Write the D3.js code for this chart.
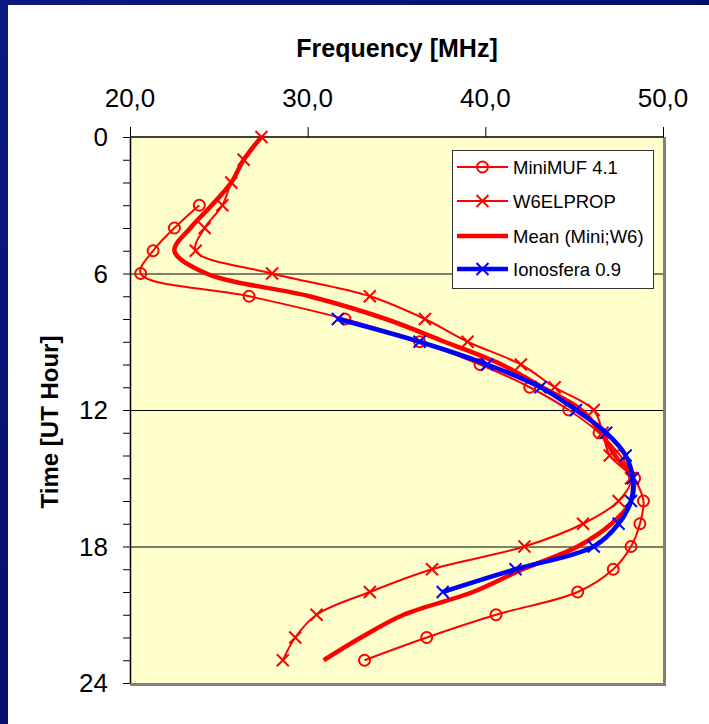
<!DOCTYPE html>
<html lang="en">

<head>
    <meta charset="utf-8">
    <script src="https://cdn.jsdelivr.net/npm/d3@7"></script>
    <title>MUF comparison</title>
    <style>
        body { margin: 0; background: #06066a; }
        svg { display: block; font-family: "Liberation Sans", Arial, sans-serif; }
    </style>
</head>

<body>
    <svg width="709" height="724" id="plot"></svg>
    <script>
    // hours of the day (UT)
    const hours = [0, 1, 2, 3, 4, 5, 6, 7, 8, 9, 10, 11, 12, 13, 14, 15, 16, 17, 18, 19, 20, 21, 22, 23]

    // frequencies in MHz, null where a series has no value
    const miniMuf = [null, null, null, 23.9, 22.5, 21.3, 20.6, 26.7, 32.1, 36.3, 39.7, 42.5,
        44.7, 46.4, 47.6, 48.4, 48.9, 48.7, 48.2, 47.2, 45.2, 40.6, 36.7, 33.2]
    const w6elprop = [27.4, 26.4, 25.7, 25.2, 24.2, 23.7, 28.0, 33.5, 36.6, 39.0, 42.0, 43.9,
        46.1, 46.6, 47.0, 48.2, 47.5, 45.5, 42.2, 37.0, 33.5, 30.5, 29.3, 28.6]
    const meanMiniW6 = [27.4, 26.4, 25.7, 24.6, 23.4, 22.5, 24.3, 30.1, 34.4, 37.7, 40.9, 43.2,
        45.4, 46.5, 47.3, 48.3, 48.2, 47.1, 45.2, 42.1, 39.3, 35.4, 33.0, 30.9]
    const ionosfera = [null, null, null, null, null, null, null, null, 31.7, 36.3, 40.1, 43.1,
        45.1, 46.8, 47.9, 48.3, 48.2, 47.5, 46.1, 41.7, 37.6, null, null, null]

    const freqTicks = [20, 30, 40, 50]
    const hourTicks = [0, 6, 12, 18, 24]

    const series = [
        { name: "MiniMUF 4.1", values: miniMuf, color: "#ff0000", width: 2, marker: "circle" },
        { name: "W6ELPROP", values: w6elprop, color: "#ff0000", width: 2, marker: "cross" },
        { name: "Mean (Mini;W6)", values: meanMiniW6, color: "#ff0000", width: 4.5, marker: "none" },
        { name: "Ionosfera 0.9", values: ionosfera, color: "#0000ff", width: 4.5, marker: "cross" }
    ]

    let svg = d3.select("#plot")

    // background: dark blue slide with white panel
    let grad = svg.append("defs").append("linearGradient")
        .attr("id", "bg").attr("x1", 0).attr("y1", 0).attr("x2", 1).attr("y2", 1)
    grad.append("stop").attr("offset", 0).attr("stop-color", "#0a1a80")
    grad.append("stop").attr("offset", 1).attr("stop-color", "#03035c")
    svg.append("rect").attr("width", 709).attr("height", 724).attr("fill", "url(#bg)")
    svg.append("rect").attr("x", 8).attr("y", 5).attr("width", 701).attr("height", 719).attr("fill", "#ffffff")

    const plotLeft = 130, plotRight = 663, plotTop = 137, plotBottom = 683

    let x = d3.scaleLinear().domain([20, 50]).range([plotLeft, plotRight])
    let y = d3.scaleLinear().domain([0, 24]).range([plotTop, plotBottom])

    // plot area
    svg.append("rect")
        .attr("x", plotLeft).attr("y", plotTop)
        .attr("width", plotRight - plotLeft).attr("height", plotBottom - plotTop)
        .attr("fill", "#ffffcc")
    svg.append("path")
        .attr("d", `M${plotRight + 1.5},${plotTop}V${plotBottom + 1.5}H${plotLeft}`)
        .attr("fill", "none").attr("stroke", "#808080").attr("stroke-width", 3)

    // horizontal grid
    svg.append("g").selectAll("line")
        .data(hourTicks.filter(d => d > 0 && d < 24))
        .enter().append("line")
        .attr("x1", plotLeft).attr("x2", plotRight)
        .attr("y1", d => y(d) + 0.5).attr("y2", d => y(d) + 0.5)
        .attr("stroke", "#000").attr("stroke-width", 1)

    // top axis
    svg.append("line")
        .attr("x1", plotLeft).attr("x2", plotRight + 1)
        .attr("y1", plotTop).attr("y2", plotTop)
        .attr("stroke", "#404040").attr("stroke-width", 2)
    svg.append("g").selectAll("line")
        .data(freqTicks)
        .enter().append("line")
        .attr("x1", d => x(d) + 0.5).attr("x2", d => x(d) + 0.5)
        .attr("y1", plotTop - 10).attr("y2", plotTop)
        .attr("stroke", "#000")
    svg.append("g").selectAll("text")
        .data(freqTicks)
        .enter().append("text")
        .attr("x", d => x(d)).attr("y", 107)
        .attr("text-anchor", "middle")
        .style("font-size", "26px")
        .text(d => d3.format(".1f")(d).replace(".", ","))

    // left axis
    svg.append("line")
        .attr("x1", plotLeft + 0.5).attr("x2", plotLeft + 0.5)
        .attr("y1", plotTop).attr("y2", plotBottom)
        .attr("stroke", "#000").attr("stroke-width", 1.5)
    svg.append("g").selectAll("line")
        .data(d3.range(0, 25))
        .enter().append("line")
        .attr("x1", plotLeft - 7).attr("x2", plotLeft)
        .attr("y1", d => y(d) + 0.5).attr("y2", d => y(d) + 0.5)
        .attr("stroke", "#000")
    svg.append("g").selectAll("text")
        .data(hourTicks)
        .enter().append("text")
        .attr("x", 108).attr("y", d => y(d))
        .attr("dy", "0.36em")
        .attr("text-anchor", "end")
        .style("font-size", "26px")
        .text(d => d)

    // axis titles
    svg.append("text")
        .text("Frequency [MHz]")
        .attr("x", 397).attr("y", 57)
        .attr("text-anchor", "middle")
        .style("font-size", "25px").style("font-weight", "bold")
    svg.append("text")
        .text("Time [UT Hour]")
        .attr("transform", "translate(58,422) rotate(-90)")
        .attr("text-anchor", "middle")
        .style("font-size", "24px").style("font-weight", "bold")

    function drawMarker(g, kind, px, py, color) {
        if (kind == "circle") {
            g.append("circle")
                .attr("cx", px).attr("cy", py).attr("r", 5.5)
                .attr("fill", "none").attr("stroke", color).attr("stroke-width", 2)
        } else if (kind == "cross") {
            const s = 6
            g.append("path")
                .attr("d", `M${px - s},${py - s}L${px + s},${py + s}M${px - s},${py + s}L${px + s},${py - s}`)
                .attr("stroke", color).attr("stroke-width", 2)
        }
    }

    // series lines
    let lines = svg.append("g")
    for (const s of series) {
        const pts = hours.map((h, i) => ({ hour: h, freq: s.values[i] })).filter(d => d.freq != null)
        lines.append("path")
            .datum(pts)
            .attr("fill", "none")
            .attr("stroke", s.color)
            .attr("stroke-width", s.width)
            .attr("stroke-linejoin", "round")
            .attr("d", d3.line()
                .curve(d3.curveCatmullRom.alpha(0.5))
                .x(d => x(d.freq))
                .y(d => y(d.hour))
            )
        let marks = lines.append("g")
        pts.forEach(d => drawMarker(marks, s.marker, x(d.freq), y(d.hour), s.color))
    }

    // legend
    let legend = svg.append("g")
    legend.append("rect")
        .attr("x", 452.5).attr("y", 150.5).attr("width", 201).attr("height", 138)
        .attr("fill", "#fff").attr("stroke", "#333").attr("stroke-width", 1)
    const legendY = [167, 201, 236, 269]
    series.forEach((s, i) => {
        legend.append("line")
            .attr("x1", 457).attr("x2", 508)
            .attr("y1", legendY[i]).attr("y2", legendY[i])
            .attr("stroke", s.color).attr("stroke-width", s.width)
        drawMarker(legend, s.marker, 482.5, legendY[i], s.color)
        legend.append("text")
            .attr("x", 513).attr("y", legendY[i])
            .attr("dy", "0.36em")
            .style("font-size", "18.5px")
            .text(s.name)
    })
    </script>
</body>

</html>
